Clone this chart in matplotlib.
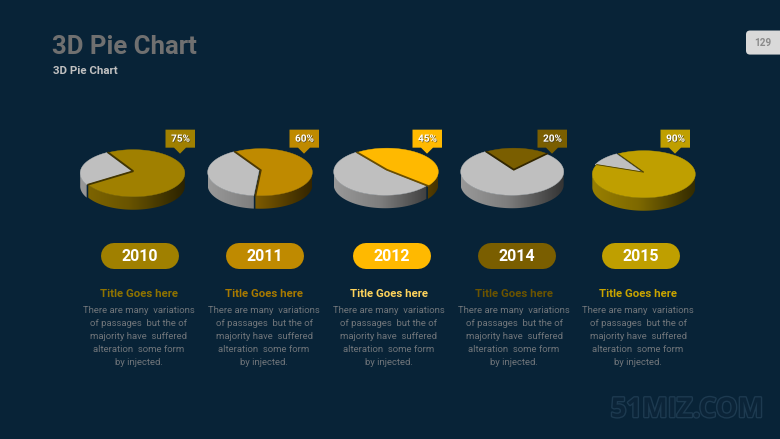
import numpy as np
import matplotlib
matplotlib.use("Agg")
import matplotlib.pyplot as plt
from matplotlib.patches import FancyBboxPatch, Polygon
import matplotlib.patheffects as pe
from matplotlib.colors import to_rgb

years = ["2010", "2011", "2012", "2014", "2015"]
shares = [75, 60, 45, 20, 90]
colors = ["#A08000", "#BF8A00", "#FFB900", "#7A5E00", "#BF9F00"]
title_colors = ["#8F7300", "#A87A00", "#FFD45C", "#6B5400", "#C9A400"]
start_angles = [119, 120, 125, 122, 120]
pie_cx = [132.5, 260, 386, 513, 643]
pie_cy = [173.5, 172.5, 172, 172, 174.5]
pill_cx = [140, 265, 392, 516.5, 641]
text_cx = [139, 264, 389, 514, 638]
tip_x = [180, 304, 427, 552, 675]
seam_px = [1.6, 1.6, 1.6, 1.6, 0.8]

heading = "3D Pie Chart"
subheading = "3D Pie Chart"
page = "129"
card_title = "Title Goes here"
body_lines = ["There are many  variations", "of passages  but the of",
              "majority have  suffered", "alteration  some form", "by injected."]
watermark = "51MIZ.COM"

BG = "#082337"
GRAY = "#BFBFBF"
RX, RY, DEPTH = 51.5, 23.5, 13

fig = plt.figure(figsize=(7.8, 4.395), dpi=100, facecolor=BG)
ax = fig.add_axes([0, 0, 1, 1])
ax.set_xlim(0, 780)
ax.set_ylim(439, 0)
ax.axis("off")
px = 0.72


def rim(cx, cy, deg):
    t = np.radians(deg)
    return cx + RX * np.cos(t), cy - RY * np.sin(t)


def wall(cx, cy, a0, a1, base, z):
    """Side wall for the arc a0 -> a1 (degrees, increasing), shaded left to right."""
    angles = np.arange(a0, a1 + 0.5, 1.0)
    angles = angles[np.sin(np.radians(angles)) <= 0.02]
    if len(angles) < 2:
        return
    top = [rim(cx, cy, a) for a in angles]
    bottom = [(x, y + DEPTH) for x, y in reversed(top)]
    poly = Polygon(top + bottom, closed=True, fc="none", ec="none", zorder=z)
    ax.add_patch(poly)
    u = np.linspace(-1, 1, 128)
    f = np.interp(u, [-1, -0.1, 0.45, 1], [0.80, 0.66, 0.46, 0.27])
    grad = (np.array(to_rgb(base))[None, None, :] * f[None, :, None])
    im = ax.imshow(grad, extent=(cx - RX, cx + RX, cy + RY + DEPTH + 1, cy - RY - 1),
                   aspect="auto", interpolation="bilinear", zorder=z)
    im.set_clip_path(poly)
    ax.set_xlim(0, 780)
    ax.set_ylim(439, 0)


def face(cx, cy, a0, a1, base, z):
    angles = np.linspace(a0, a1, 120)
    pts = [(cx, cy - 2)] + [rim(cx, cy, a) for a in angles]
    ax.add_patch(Polygon(pts, closed=True, fc=base, ec=base, lw=0.3, zorder=z))


for i, share in enumerate(shares):
    cx, cy, col = pie_cx[i], pie_cy[i], colors[i]
    a_hi = start_angles[i]
    a_lo = a_hi - share * 3.6
    gx, cx2 = cx - 0.8, cx + 0.8
    # grey remainder
    wall(gx, cy, a_hi, a_lo + 360, GRAY, 2)
    face(gx, cy, a_hi, a_lo + 360, GRAY, 3)
    # coloured share
    wall(cx2, cy, a_lo, a_hi, col, 4)
    face(cx2, cy, a_lo, a_hi, col, 5)
    # dark seams along the cut edges
    dark = tuple(np.array(to_rgb(col)) * 0.42)
    x0, y0 = rim(cx2, cy, a_hi)
    x1, y1 = rim(cx2, cy, a_lo)
    ax.plot([x0, cx2, x1], [y0, cy - 2, y1], color=dark, lw=seam_px[i] * px * 1.1,
            solid_joinstyle="miter", zorder=6)

    # callout
    tx = tip_x[i]
    ax.add_patch(Polygon([(tx - 14.5, 130), (tx + 15, 130), (tx + 15, 148), (tx + 6, 148),
                          (tx, 154), (tx - 6, 148), (tx - 14.5, 148)],
                         closed=True, fc=col, ec="none", zorder=7))
    ax.text(tx + 0.5, 139, f"{share}%", color="white", fontsize=10 * px, fontweight="bold",
            family="Roboto", ha="center", va="center", zorder=8,
            path_effects=[pe.withSimplePatchShadow(offset=(0.5, -0.5), shadow_rgbFace="#333333", alpha=0.7)])

    # year pill
    pc = pill_cx[i]
    ax.plot([pc - 26, pc + 26], [256, 256], color=col, lw=26 * px,
            solid_capstyle="round", zorder=1)
    ax.text(pc, 256.5, years[i], color="white", fontsize=16 * px, fontweight="bold",
            family="Roboto", ha="center", va="center", zorder=2)

    # card text
    ax.text(text_cx[i], 294, card_title, color=title_colors[i], fontsize=11.4 * px,
            fontweight="bold", family="Roboto", ha="center", va="center")
    for k, line in enumerate(body_lines):
        ax.text(text_cx[i], 310.5 + 13 * k, line, color="#70757A", fontsize=9.5 * px,
                family="Roboto", ha="center", va="center")

ax.text(52, 47, heading, color="#707070", fontsize=25.7 * px, fontweight="bold",
        family="Roboto", ha="left", va="center")
ax.text(53, 71, subheading, color="#C0C0C0", fontsize=11.5 * px, fontweight="bold",
        family="Roboto", ha="left", va="center")

ax.add_patch(FancyBboxPatch((750, 35), 50, 16, boxstyle="round,pad=4,rounding_size=4",
                            fc="#D9D9D9", ec="none", clip_on=True))
ax.text(763, 43, page, color="#8A8A8A", fontsize=10 * px, fontweight="bold",
        family="Roboto", ha="center", va="center")

ax.text(687, 410, watermark, color="#0B2438", fontsize=27.3 * px, fontweight="bold",
        family="Open Sans", ha="center", va="center",
        path_effects=[pe.withStroke(linewidth=2, foreground="#1D3A50")])

fig.savefig("out.png", dpi=100, facecolor=BG)
